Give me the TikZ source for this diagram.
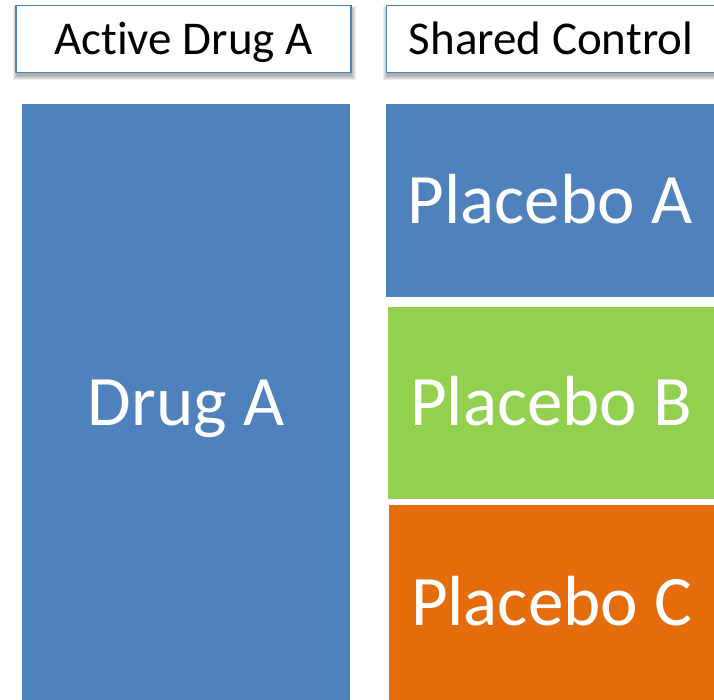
\documentclass[tikz,border=0pt]{standalone}
\usepackage{fontspec}
\setmainfont{Carlito}[RawFeature=-liga]
\definecolor{blu}{HTML}{4F81BD}
\definecolor{grn}{HTML}{92D050}
\definecolor{org}{HTML}{E46C0A}
\begin{document}
\begin{tikzpicture}[x=1pt,y=-1pt,
  hdr/.style={draw=blu, line width=1.2pt, fill=white, inner sep=0pt,
    font=\fontsize{47}{50}\selectfont, text height=30pt, text depth=0pt},
  blk/.style={draw=none, inner sep=0pt, text=white,
    font=\fontsize{71}{75}\selectfont, text height=45.5pt, text depth=0pt}]
\useasboundingbox (0,0) rectangle (714,699);
\fill[white] (0,0) rectangle (714,699);
% soft shadows behind the header boxes
\foreach \e in {4,3,2,1,0}{
  \fill[black, opacity=0.07] (16-\e+0.5,5-\e+5) rectangle (351+\e+0.5,72.5+\e+3);
  \fill[black, opacity=0.07] (386-\e+0.5,5-\e+5) rectangle (731+\e+0.5,72.5+\e+3);
}
\node[hdr, minimum width=335pt, minimum height=67pt] (h1) at (183.5,39) {Active Drug A};
\node[hdr, minimum width=345pt, minimum height=67pt, anchor=west] (h2) at (386,39) {\hspace*{-16pt}Shared Control};
\node[blk, fill=blu, minimum width=328pt, minimum height=597pt] (d) at (186,402.5) {Drug A};
\node[blk, fill=blu, minimum width=328pt, minimum height=193pt] (pa) at (550,200.5) {Placebo A};
\node[blk, fill=grn, minimum width=326pt, minimum height=192pt] (pb) at (551,403) {Placebo B};
\node[blk, fill=org, minimum width=325pt, minimum height=196pt] (pc) at (551.5,603) {Placebo C};
\end{tikzpicture}
\end{document}
